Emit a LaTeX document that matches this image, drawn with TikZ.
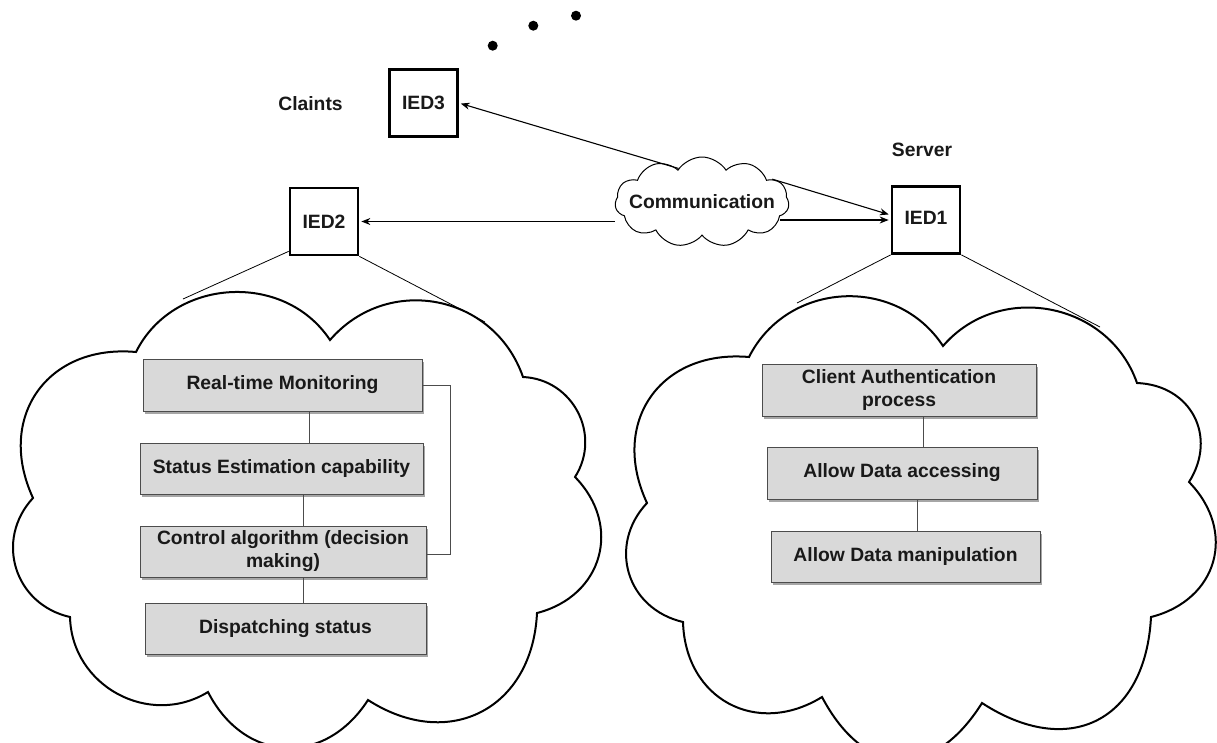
\documentclass[tikz,border=0pt]{standalone}
\usepackage{fontspec}
\setmainfont{Liberation Sans}
\usetikzlibrary{shapes.symbols,shadows,arrows.meta,calc}
\begin{document}
\begin{tikzpicture}[x=1pt,y=-1pt,
  txt/.style={font=\fontsize{19.3}{23}\selectfont\bfseries, text=black!90},
  bump/.style={to path={.. controls ($(\tikztostart)!#1!60:(\tikztotarget)$) and ($(\tikztotarget)!#1!-60:(\tikztostart)$) .. (\tikztotarget)}},
  bigcloud/.style={draw=black, line width=2pt, fill=white},
  ied/.style={draw=black, line width=2.7pt, fill=white, minimum width=68pt, minimum height=67pt, inner sep=0pt, txt},
  task/.style={draw=black!70, line width=0.9pt, fill=black!15, txt, align=center, inner sep=0pt,
    drop shadow={shadow xshift=1.5pt, shadow yshift=-3pt, opacity=0.35, fill=black}},
  conn/.style={draw=black!70, line width=1pt},
  link/.style={draw=black, line width=0.8pt},
  arr/.style={draw=black, line width=1.1pt, -{Stealth[length=9pt,width=7pt]}, shorten >=2pt},
  commcloud/.style={cloud, draw=black, line width=1pt, fill=white, cloud puffs=11, cloud puff arc=115,
    aspect=2, minimum width=174pt, minimum height=90pt, inner sep=0pt},
]
\useasboundingbox[fill=white] (0,0) rectangle (1217,742);

% dots
\fill (492.7,45.7) circle[radius=5pt];
\fill (533.3,25.7) circle[radius=5pt];
\fill (576,15.7) circle[radius=5pt];

% labels
\node[txt] (claints) at (310.5,103.5) {Claints};
\node[txt] (server) at (922,150) {Server};

% IED boxes
\node[ied] (ied3) at (423.5,103) {IED3};
\node[ied] (ied2) at (324,221.5) {IED2};
\node[ied] (ied1) at (926,220) {\raisebox{5pt}{IED1}};

% communication cloud
\node[commcloud, label={[txt]center:Communication}] (comm) at (702,202) {};

% arrows
\draw[arr] (comm.west |- ied2.east) -- (ied2.east);
\draw[arr] ([xshift=-9pt]comm.east |- ied1.west) -- (ied1.west);
\draw[arr] (comm.18) -- (ied1.172);
\draw[arr] (comm.125) -- (ied3.east);

% links from IEDs to clouds
\coordinate (e2l) at (183,299);
\coordinate (e2r) at (485,322);
\coordinate (e1l) at (797,303);
\coordinate (e1r) at (1100,327);
\draw[link] ([yshift=5pt]ied2.south west) -- (e2l);
\draw[link] (ied2.south east) -- (e2r);
\draw[link] (ied1.south west) -- (e1l);
\draw[link] (ied1.south east) -- (e1r);

% big clouds
\draw[bigcloud] (136,352) to[bump=83pt] (330,340) to[bump=88pt] (523,377) to[bump=50pt] (575,477)
  to[bump=68pt] (537,613) to[bump=96pt] (368,700) to[bump=80pt] (208,692) to[bump=69pt] (70,617)
  to[bump=57pt] (33,498) to[bump=89pt] (136,352) -- cycle;
\draw[bigcloud] (749,357) to[bump=85pt] (943,346) to[bump=86pt] (1137,383) to[bump=54pt] (1189,482)
  to[bump=69pt] (1151,617) to[bump=104pt] (982,703) to[bump=92pt] (822,697) to[bump=77pt] (683,622)
  to[bump=58pt] (647,503) to[bump=89pt] (749,357) -- cycle;

% left tasks
\node[task, minimum width=279pt, minimum height=52pt] (l1) at (282.5,385) {Real-time Monitoring};
\node[task, minimum width=283pt, minimum height=51pt] (l2) at (281.5,468.5) {Status Estimation capability};
\node[task, minimum width=286pt, minimum height=51pt] (l3) at (283,551.5) {Control algorithm (decision\\making)};
\node[task, minimum width=281pt, minimum height=51pt] (l4) at (285.5,628.5) {Dispatching status};

\draw[conn] ([xshift=26.5pt]l1.south) -- ([xshift=26.5pt]l1.south |- l2.north);
\draw[conn] ([xshift=21.5pt]l2.south) -- ([xshift=21.5pt]l2.south |- l3.north);
\draw[conn] ([xshift=20pt]l3.south) -- ([xshift=20pt]l3.south |- l4.north);
\draw[conn] (l1.east) -- ++(28,0) |- ([yshift=-2.5pt]l3.east);

% right tasks
\node[task, minimum width=274pt, minimum height=52pt] (r1) at (899,390) {Client Authentication\\process};
\node[task, minimum width=270pt, minimum height=52pt] (r2) at (902,473) {Allow Data accessing};
\node[task, minimum width=269pt, minimum height=51pt] (r3) at (905.5,556.5) {Allow Data manipulation};

\draw[conn] ([xshift=24pt]r1.south) -- ([xshift=24pt]r1.south |- r2.north);
\draw[conn] ([xshift=15pt]r2.south) -- ([xshift=15pt]r2.south |- r3.north);
\end{tikzpicture}
\end{document}
